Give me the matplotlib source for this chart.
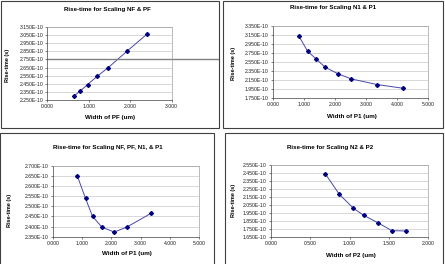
import numpy as np
import matplotlib
matplotlib.use('Agg')
from matplotlib import pyplot as plt
from matplotlib.patches import Rectangle
from matplotlib.ticker import FuncFormatter, FixedLocator

plt.rcParams['font.family'] = ['Liberation Sans', 'DejaVu Sans']

# Scaling NF & PF
nfpf_width = [0.65, 0.79, 0.97, 1.20, 1.47, 1.92, 2.41]
nfpf_rise = [2.305e-10, 2.362e-10, 2.442e-10, 2.542e-10, 2.650e-10, 2.850e-10, 3.062e-10]

# Scaling N1 & P1
n1p1_width = [0.84, 1.12, 1.40, 1.68, 2.10, 2.52, 3.36, 4.20]
n1p1_rise = [3.120e-10, 2.787e-10, 2.616e-10, 2.439e-10, 2.291e-10, 2.180e-10, 2.054e-10, 1.972e-10]

# Scaling NF, PF, N1 & P1
all_width = [0.84, 1.12, 1.36, 1.68, 2.10, 2.52, 3.36]
all_rise = [2.650e-10, 2.539e-10, 2.450e-10, 2.397e-10, 2.373e-10, 2.397e-10, 2.466e-10]

# Scaling N2 & P2
n2p2_width = [0.69, 0.87, 1.05, 1.18, 1.36, 1.54, 1.72]
n2p2_rise = [2.446e-10, 2.188e-10, 2.013e-10, 1.925e-10, 1.833e-10, 1.733e-10, 1.729e-10]

W, H = 445, 264
fig = plt.figure(figsize=(W / 100, H / 100), dpi=100)


def px_axes(l, t, r, b):
    return fig.add_axes([l / W, 1 - b / H, (r - l) / W, (b - t) / H])


def box(l, t, r, b):
    fig.patches.append(Rectangle((l / W, 1 - b / H), (r - l) / W, (b - t) / H,
                                 transform=fig.transFigure, fill=False,
                                 edgecolor='#404040', lw=0.8))


def panel(rect, x, y, xlim, nx, ylim, ny, title, tpos, xlab, xpos, ypos):
    ax = px_axes(*rect)
    ax.plot(x, y, color='#4848a8', lw=0.7, marker='D', ms=2.0,
            mfc='#000080', mec='#000080')
    ax.set_xlim(*xlim)
    ax.set_ylim(*ylim)
    ax.xaxis.set_major_locator(FixedLocator(np.linspace(xlim[0], xlim[1], nx)))
    ax.yaxis.set_major_locator(FixedLocator(np.linspace(ylim[0], ylim[1], ny)))
    ax.xaxis.set_major_formatter(FuncFormatter(lambda v, p: f'{v:.3f}'))
    ax.yaxis.set_major_formatter(FuncFormatter(lambda v, p: f'{v * 1e10:.3f}E-10'))
    ax.grid(axis='y', color='#c8c8c8', lw=0.5)
    ax.set_axisbelow(True)
    for s in ax.spines.values():
        s.set_color('#a0a0a0')
        s.set_linewidth(0.5)
    ax.spines['left'].set_color('#404040')
    ax.spines['bottom'].set_color('#404040')
    ax.tick_params(labelsize=3.7, length=1.5, width=0.4, pad=1.5, colors='#202020')
    fig.text(tpos[0] / W, 1 - tpos[1] / H, title, ha='center', va='center',
             fontsize=4.4, fontweight='bold')
    fig.text(xpos[0] / W, 1 - xpos[1] / H, xlab, ha='center', va='center',
             fontsize=4.5, fontweight='bold')
    fig.text(ypos[0] / W, 1 - ypos[1] / H, 'Rise-time (s)', ha='center', va='center',
             fontsize=4.0, fontweight='bold', rotation=90)
    return ax


box(1, 1, 219, 128)
box(223, 1, 443, 128)
box(0, 133, 214, 266)
box(225, 133, 443, 266)

ax1 = panel((47.3, 26.7, 171.7, 100.3), nfpf_width, nfpf_rise, (0, 3), 4,
            (2.25e-10, 3.15e-10), 10, 'Rise-time for Scaling NF & PF', (107, 9),
            'Width of PF (um)', (110, 118), (7, 65))
ax1.axhline(2.75e-10, xmin=0, xmax=(218 - 47.3) / (171.7 - 47.3), clip_on=False,
            color='#808080', lw=1.0)

panel((273, 26, 428, 98.3), n1p1_width, n1p1_rise, (0, 5), 6,
      (1.75e-10, 3.35e-10), 9, 'Rise-time for Scaling N1 & P1', (333, 8),
      'Width of P1 (um)', (352, 117), (234, 63))

panel((52.7, 165.9, 199.3, 236.7), all_width, all_rise, (0, 5), 6,
      (2.35e-10, 2.70e-10), 8, 'Rise-time for Scaling NF, PF, N1, & P1', (108, 148),
      'Width of P1 (um)', (127, 254), (10, 210))

panel((271, 165.3, 428, 237.3), n2p2_width, n2p2_rise, (0, 2), 5,
      (1.65e-10, 2.55e-10), 10, 'Rise-time for Scaling N2 & P2', (330, 148),
      'Width of P2 (um)', (351, 256), (234, 200))

fig.savefig('out.png', dpi=100)
